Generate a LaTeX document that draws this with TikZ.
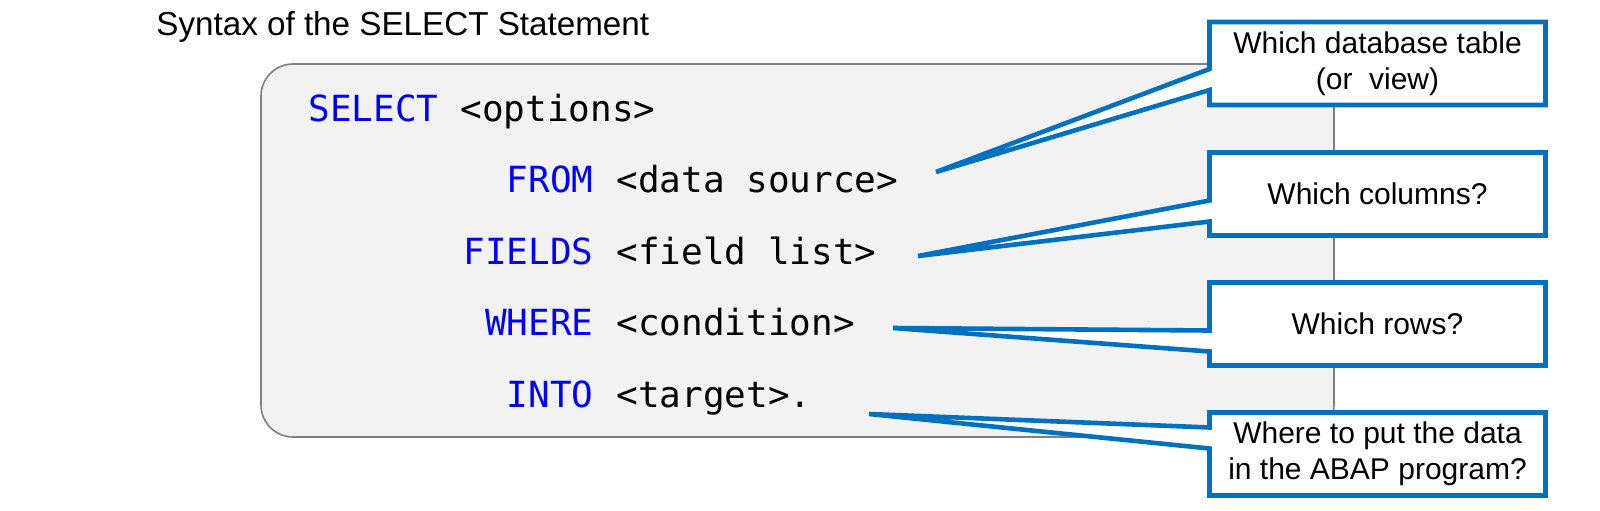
\documentclass[tikz,border=0pt]{standalone}
\usepackage{fontspec}
\setmainfont{Liberation Sans}
\newfontfamily\codefont{DejaVu Sans Mono}
\usetikzlibrary{calc}
\definecolor{calloutblue}{HTML}{0070C0}
\definecolor{kwblue}{HTML}{0000FF}
\definecolor{panelfill}{HTML}{F2F2F2}
\definecolor{panelline}{HTML}{808080}
\pgfdeclarelayer{bg}
\pgfsetlayers{bg,main}
\begin{document}
\begin{tikzpicture}[x=0.5pt,y=-0.5pt,
  panel/.style={draw=panelline, line width=0.8pt, fill=panelfill, rounded corners=16pt,
    minimum width=536.5pt, minimum height=186.5pt, inner sep=0pt, outer sep=0pt},
  titletext/.style={anchor=base west, inner sep=0pt, font=\fontsize{16.6}{19}\selectfont},
  kw/.style={anchor=base east, inner sep=0pt, text=kwblue, font=\codefont\fontsize{18}{22}\selectfont},
  arg/.style={anchor=base west, inner sep=0pt, text=black, font=\codefont\fontsize{18}{22}\selectfont},
  calloutbox/.style={minimum width=168pt, minimum height=41.5pt, inner sep=0pt, outer sep=0pt,
    align=center, font=\fontsize{15}{18}\selectfont},
  calloutline/.style={draw=calloutblue, line width=2.3pt, fill=white, line join=miter}
]
\useasboundingbox (0,0) rectangle (1600,510);

% title
\node[titletext] (title) at (156,35) {Syntax of the SELECT Statement};

% code lines
\node[kw, anchor=base west] (kwselect) at (308,121) {SELECT};
\node[arg] (argselect) at (460,121) {<options>};
\node[kw] (kwfrom) at (594,192.5) {FROM};
\node[arg] (argfrom) at (616,192.5) {<data source>};
\node[kw] (kwfields) at (594,264) {FIELDS};
\node[arg] (argfields) at (616,264) {<field list>};
\node[kw] (kwwhere) at (594,335.5) {WHERE};
\node[arg] (argwhere) at (616,335.5) {<condition>};
\node[kw] (kwinto) at (594,407) {INTO};
\node[arg] (arginto) at (616,407) {<target>.};

% callout texts
\node[calloutbox] (b1) at (1377.5,63.5) {Which database table\\(or\ \ view)};
\node[calloutbox] (b2) at (1377.5,194) {Which columns?};
\node[calloutbox] (b3) at (1377.5,324) {Which rows?};
\node[calloutbox] (b4) at (1377.5,454) {Where to put the data\\in the ABAP program?};

% pointer tips
\coordinate (t1) at (936,172);
\coordinate (t2) at (918,256);
\coordinate (t3) at (893,328);
\coordinate (t4) at (869,414);

\begin{pgfonlayer}{bg}
\node[panel] (frame) at (797.5,250.5) {};
\draw[calloutline] (b1.north west) -- (b1.north east) -- (b1.south east) -- (b1.south west)
  -- ($(b1.north west)+(0,68)$) -- (t1) -- ($(b1.north west)+(0,47)$) -- cycle;
\draw[calloutline] (b2.north west) -- (b2.north east) -- (b2.south east) -- (b2.south west)
  -- ($(b2.north west)+(0,69)$) -- (t2) -- ($(b2.north west)+(0,48)$) -- cycle;
\draw[calloutline] (b3.north west) -- (b3.north east) -- (b3.south east) -- (b3.south west)
  -- ($(b3.north west)+(0,69)$) -- (t3) -- ($(b3.north west)+(0,48)$) -- cycle;
\draw[calloutline] (b4.north west) -- (b4.north east) -- (b4.south east) -- (b4.south west)
  -- ($(b4.north west)+(0,36)$) -- (t4) -- ($(b4.north west)+(0,15)$) -- cycle;
\end{pgfonlayer}
\end{tikzpicture}
\end{document}
